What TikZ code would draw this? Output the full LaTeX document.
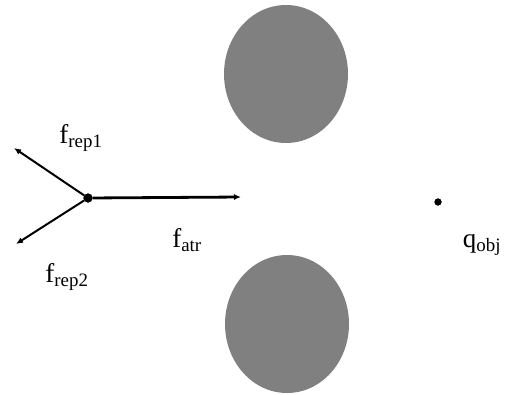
\documentclass[tikz,border=0pt]{standalone}
\usepackage{fontspec}
\setmainfont{Liberation Serif}
\usetikzlibrary{arrows.meta,shapes.geometric}
\definecolor{obstgray}{RGB}{128,128,128}

\begin{document}
\begin{tikzpicture}[x=1pt,y=-1pt,
	vertex/.style={ circle, draw, very thin, fill, inner sep=0pt, minimum size=7pt },
	obstacle/.style={ ellipse, fill=obstgray, inner sep=0pt, minimum width=124pt, minimum height=138pt },
	force/.style={ line width=2pt, -{Latex[length=7pt,width=6pt]} },
	lbl/.style={ font=\fontsize{27}{32}\selectfont, inner sep=0pt }
]
\useasboundingbox (0,0) rectangle (505,394);

\node at (286,74) (upper) [obstacle] {};
\node at (287,324) (lower) [obstacle] {};

\node at (88,198) (robot) [vertex,minimum size=9pt] {};
\node at (438,202) (goal) [vertex] {};
\coordinate (atr) at (241,197);
\coordinate (rep1) at (14,148);
\coordinate (rep2) at (16,244);
\draw[force,line width=2.8pt] (robot) to (atr);
\draw[force] (robot) to (rep1);
\draw[force] (robot) to (rep2);

\node at (81,138) (lrep1) [lbl] {f\textsubscript{rep1}};
\node at (187,240) (latr) [lbl] {f\textsubscript{atr}};
\node at (67,277) (lrep2) [lbl] {f\textsubscript{rep2}};
\node at (482,245) (lobj) [lbl] {q\textsubscript{obj}};

\end{tikzpicture}
\end{document}
